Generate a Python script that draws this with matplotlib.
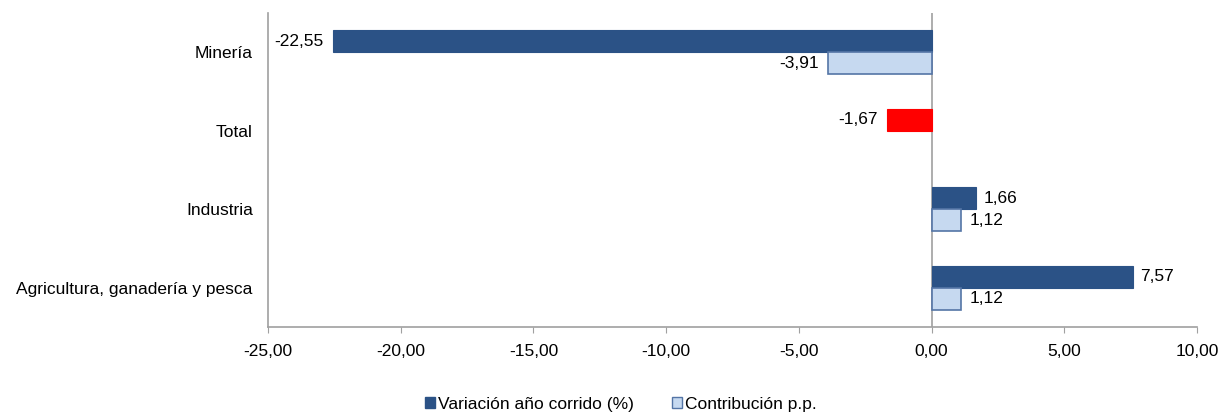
import numpy as np
import matplotlib.pyplot as plt
from matplotlib.patches import Patch

plt.rcParams['font.family'] = ['Liberation Sans', 'DejaVu Sans']

categories = ['Minería', 'Total', 'Industria', 'Agricultura, ganadería y pesca']
variacion = [-22.55, -1.67, 1.66, 7.57]
contribucion = [-3.91, np.nan, 1.12, 1.12]
xticks = [-25, -20, -15, -10, -5, 0, 5, 10]

dark = '#2B5286'
light = '#C6D9F0'
light_edge = '#5475A6'
red = '#FF0000'
fs = 12.5

fig = plt.figure(figsize=(12.2, 4.15), dpi=100)
ax = fig.add_axes([0.2197, 0.212, 0.7615, 0.757])

y = np.arange(len(categories))
h = 0.28
colors = [red if c == 'Total' else dark for c in categories]

ax.barh(y - h / 2, variacion, height=h, color=colors, edgecolor=colors, linewidth=0.8)
ax.barh(y + h / 2, contribucion, height=h, color=light, edgecolor=light_edge, linewidth=1.2)

def fmt(v):
    return f'{v:.2f}'.replace('.', ',')

def label(vals, yy):
    for yi, v in zip(yy, vals):
        if np.isnan(v):
            continue
        ha = 'right' if v < 0 else 'left'
        off = -0.35 if v < 0 else 0.3
        ax.text(v + off, yi, fmt(v), ha=ha, va='center', fontsize=fs)

label(variacion, y - h / 2)
label(contribucion, y + h / 2)

ax.set_xlim(-25, 10)
ax.set_ylim(len(categories) - 0.5, -0.5)
ax.set_xticks(xticks)
ax.set_xticklabels([fmt(t) for t in xticks], fontsize=fs)
ax.set_yticks(y)
ax.set_yticklabels(categories, fontsize=fs)
ax.tick_params(axis='y', length=0, pad=11)
ax.tick_params(axis='x', length=4, color='#A0A0A0', pad=8)

for s in ['top', 'right']:
    ax.spines[s].set_visible(False)
for s in ['left', 'bottom']:
    ax.spines[s].set_color('#A0A0A0')
    ax.spines[s].set_linewidth(1.2)

ax.axvline(0, color='#A0A0A0', linewidth=1.2, zorder=0)

handles = [Patch(facecolor=dark, edgecolor=dark), Patch(facecolor=light, edgecolor=light_edge)]
fig.legend(handles, ['Variación año corrido (%)', 'Contribución p.p.'], loc='lower center',
           bbox_to_anchor=(0.509, -0.03), ncol=2, frameon=False, fontsize=fs,
           handlelength=0.55, handleheight=0.55, handletextpad=0.2, columnspacing=2.2)

fig.savefig('out.png', dpi=100)
